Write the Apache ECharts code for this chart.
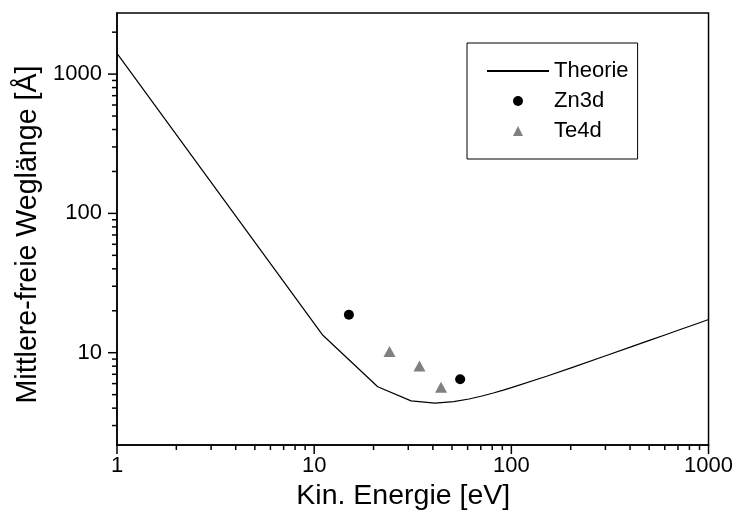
<!DOCTYPE html>
<html><head><meta charset="utf-8">
<script src="https://cdn.jsdelivr.net/npm/echarts@6/dist/echarts.min.js"></script>
<style>html,body{margin:0;padding:0;background:#fff}#chart{width:736px;height:518px}</style>
</head><body><div id="chart"></div>
<script>
// Theory curve
const theoryEnergy = [1, 11, 21, 31, 41, 51, 61, 71, 81, 91, 101, 151, 201, 301, 401, 501, 601, 701, 801, 901, 1000];
const theoryLength = [1410, 13.46, 5.70, 4.51, 4.34, 4.45, 4.65, 4.89, 5.14, 5.39, 5.64, 6.78, 7.79, 9.51, 10.96, 12.25, 13.41, 14.49, 15.48, 16.42, 17.30];
// Measured points
const zn3dEnergy = [15, 55];
const zn3dLength = [18.7, 6.44];
const te4dEnergy = [24.1, 34.2, 44.0];
const te4dLength = [10.2, 8.03, 5.65];
// Ticks
const xMajorTicks = [1, 10, 100, 1000];
const xMinorTicks = [2, 3, 4, 5, 6, 7, 8, 9, 20, 30, 40, 50, 60, 70, 80, 90, 200, 300, 400, 500, 600, 700, 800, 900];
const yMajorTicks = [10, 100, 1000];
const yMinorTicks = [3, 4, 5, 6, 7, 8, 9, 20, 30, 40, 50, 60, 70, 80, 90, 200, 300, 400, 500, 600, 700, 800, 900, 2000];
const xRange = [1, 1000];
const yRange = [2.175, 2745];

const FONT = "'Liberation Sans', Arial, sans-serif";
const zip = (a, b) => a.map((v, i) => [v, b[i]]);
function majorLabel(list) {
  return function (v) {
    for (const t of list) { if (Math.abs(v - t) / t < 1e-6) return String(t); }
    return '';
  };
}

const chart = echarts.init(document.getElementById('chart'), null, {renderer: 'canvas'});
chart.setOption({
  animation: false,
  backgroundColor: '#fff',
  textStyle: {fontFamily: FONT, color: '#000'},
  grid: {left: 117, right: 27, top: 13, bottom: 73, show: true, borderColor: '#000', borderWidth: 1.5, backgroundColor: 'transparent'},
  xAxis: {
    type: 'log', logBase: 10, min: xRange[0], max: xRange[1],
    name: 'Kin. Energie [eV]', nameLocation: 'middle', nameGap: 33,
    nameTextStyle: {fontSize: 28.5, color: '#000', fontFamily: FONT, padding: [0, 19, 0, 0]},
    axisLine: {show: true, lineStyle: {color: '#000', width: 1.5}},
    axisTick: {show: false}, minorTick: {show: false}, splitLine: {show: false},
    axisLabel: {fontSize: 22, color: '#000', fontFamily: FONT, margin: 10, formatter: majorLabel(xMajorTicks)}
  },
  yAxis: {
    type: 'log', logBase: 10, min: yRange[0], max: yRange[1],
    name: 'Mittlere-freie Weglänge [Å]', nameLocation: 'middle', nameGap: 72,
    nameTextStyle: {fontSize: 28.6, color: '#000', fontFamily: FONT, padding: [0, 11, 0, 0]},
    axisLine: {show: true, lineStyle: {color: '#000', width: 1.5}},
    axisTick: {show: false}, minorTick: {show: false}, splitLine: {show: false},
    axisLabel: {fontSize: 22, color: '#000', fontFamily: FONT, margin: 15, formatter: majorLabel(yMajorTicks)}
  },
  legend: {
    left: 467, top: 43, orient: 'vertical',
    data: [
      {name: 'Theorie', itemStyle: {opacity: 0}},
      {name: 'Zn3d'},
      {name: 'Te4d'}
    ],
    itemWidth: 62, itemHeight: 12.5, itemGap: 8,
    padding: [17, 9, 17, 19],
    borderColor: '#000', borderWidth: 1, backgroundColor: '#fff',
    selectedMode: false,
    textStyle: {fontSize: 22, color: '#000', fontFamily: FONT, lineHeight: 22}
  },
  series: [
    {
      name: 'Theorie', type: 'line', data: zip(theoryEnergy, theoryLength),
      symbol: 'none', showSymbol: false, smooth: false,
      lineStyle: {color: '#000', width: 1.2}, itemStyle: {color: '#000'}, z: 3
    },
    {
      name: 'Zn3d', type: 'line', data: zip(zn3dEnergy, zn3dLength),
      symbol: 'circle', symbolSize: 10, showSymbol: true,
      lineStyle: {width: 0, opacity: 0},
      itemStyle: {color: '#000', opacity: 1, borderWidth: 0}, z: 4
    },
    {
      name: 'Te4d', type: 'line', data: zip(te4dEnergy, te4dLength),
      symbol: 'triangle', symbolSize: [12, 11], showSymbol: true,
      lineStyle: {width: 0, opacity: 0},
      itemStyle: {color: '#808080', opacity: 1, borderWidth: 0}, z: 4
    }
  ]
});

// Axis ticks (major and minor), placed through the chart's own scales
const tickGraphics = [];
function addTick(x1, y1, x2, y2) {
  tickGraphics.push({type: 'line', silent: true, z: 100,
    shape: {x1: x1, y1: y1, x2: x2, y2: y2}, style: {stroke: '#000', lineWidth: 1.5}});
}
xMajorTicks.forEach(v => { const p = chart.convertToPixel({gridIndex: 0}, [v, yRange[0]]); addTick(p[0], p[1], p[0], p[1] + 9); });
xMinorTicks.forEach(v => { const p = chart.convertToPixel({gridIndex: 0}, [v, yRange[0]]); addTick(p[0], p[1], p[0], p[1] + 5); });
yMajorTicks.forEach(v => { const p = chart.convertToPixel({gridIndex: 0}, [xRange[0], v]); addTick(p[0], p[1], p[0] - 9, p[1]); });
yMinorTicks.forEach(v => { const p = chart.convertToPixel({gridIndex: 0}, [xRange[0], v]); addTick(p[0], p[1], p[0] - 5, p[1]); });
chart.setOption({graphic: tickGraphics});
</script>
</body></html>
